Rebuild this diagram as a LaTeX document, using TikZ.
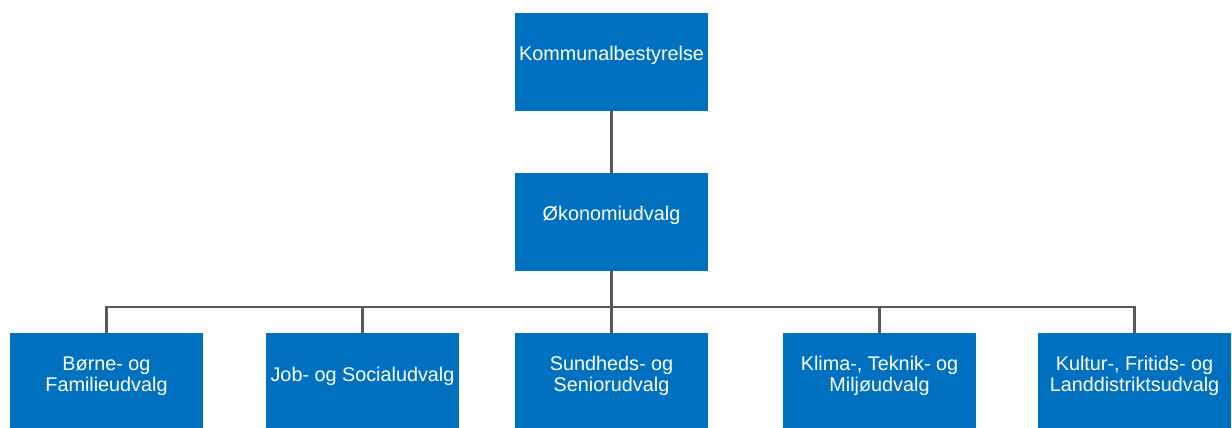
\documentclass[tikz,border=0pt]{standalone}
\usepackage{fontspec}
\setmainfont{Liberation Sans}
\definecolor{boxblue}{HTML}{0070C0}
\definecolor{linegray}{HTML}{595959}
\begin{document}
\begin{tikzpicture}[x=1pt,y=-1pt,
  box/.style={fill=boxblue,draw=none,minimum width=193pt,minimum height=98pt,inner sep=0pt},
  lbl/.style={text=white,font=\fontsize{19.8}{21.5}\selectfont,align=center,inner sep=0pt},
  conn/.style={draw=linegray,line width=2.4pt}]
\useasboundingbox (0,0) rectangle (1232,428);
\begin{scope}
\clip (0,0) rectangle (1232,428);
\node[box] (k) at (611.5,62) {};
\node[box] (o) at (611.5,222) {};
\node[box] (b1) at (106.5,382) {};
\node[box] (b2) at (362.5,382) {};
\node[box] (b3) at (611.5,382) {};
\node[box] (b4) at (879.5,382) {};
\node[box] (b5) at (1134.5,382) {};
\end{scope}
\node[lbl] (tk) at ([yshift=7pt]k.center) {Kommunalbestyrelse};
\node[lbl] (to) at ([yshift=7pt]o.center) {Økonomiudvalg};
\node[lbl] (t1) at ([yshift=6pt]b1.center) {Børne- og\\Familieudvalg};
\node[lbl] (t2) at ([yshift=6pt]b2.center) {Job- og Socialudvalg};
\node[lbl] (t3) at ([yshift=6pt]b3.center) {Sundheds- og\\Seniorudvalg};
\node[lbl] (t4) at ([yshift=6pt]b4.center) {Klima-, Teknik- og\\Miljøudvalg};
\node[lbl] (t5) at ([yshift=6pt]b5.center) {Kultur-, Fritids- og\\Landdistriktsudvalg};
\coordinate (bar) at (0,307);
\draw[conn] (k.south) -- (o.north);
\draw[conn] (o.south) -- (b3.north);
\draw[conn] (b1.north) -- (b1.north |- bar) -- (b5.north |- bar) -- (b5.north);
\draw[conn] (b2.north) -- (b2.north |- bar);
\draw[conn] (b4.north) -- (b4.north |- bar);
\end{tikzpicture}
\end{document}
